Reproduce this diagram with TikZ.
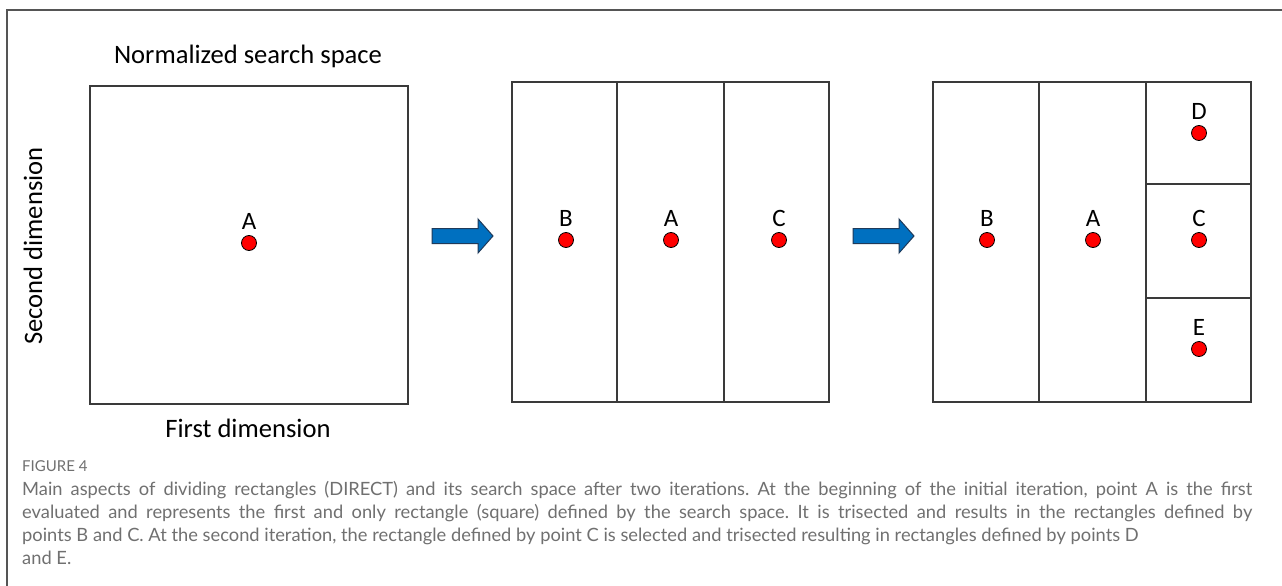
\documentclass[tikz,border=0pt]{standalone}
\usepackage{fontspec}
\setmainfont{Carlito}
\newfontfamily\capfont{Lato}
\definecolor{framegray}{HTML}{555555}
\definecolor{boxline}{HTML}{3A3A3A}
\definecolor{arrowblue}{HTML}{0070C0}
\definecolor{arrowedge}{HTML}{1F3A5A}
\definecolor{captiongray}{HTML}{707070}
\tikzset{
  region/.style={draw=boxline, line width=1.4pt},
  sample/.style={circle, fill=red, draw=black, line width=0.8pt, minimum size=15pt, inner sep=0pt},
  ptlabel/.style={font=\fontsize{25}{28}\selectfont, inner sep=0pt},
  axislabel/.style={font=\fontsize{26.6}{30}\selectfont, inner sep=0pt},
  stepflow/.style={fill=arrowblue, draw=arrowedge, line width=1pt, line join=miter},
}
\newcommand{\samplept}[4]{% name, x, y, label
  \node[sample] (#1) at (#2,#3) {};
  \node[ptlabel, anchor=base] (#1lab) at (#2,#3-14) {#4};
}
\begin{document}
\begin{tikzpicture}[x=1pt, y=-1pt]
\useasboundingbox (0,0) rectangle (1282,586);
\fill[white] (0,0) rectangle (1282,586);
% page frame (left and top rules)
\draw[framegray, line width=1.3pt] (7,586) -- (7,10) -- (1282,10);

% ---- normalized search space ----
\node[axislabel] (title) at (248,56) {Normalized search space};
\draw[region] (90,86) rectangle (408,404);
\node[axislabel, rotate=90] (ydim) at (33,246) {Second dimension};
\node[axislabel] (xdim) at (248,428) {First dimension};
\samplept{a0}{249}{243}{A}

% ---- first trisection ----
\draw[region] (512,82) rectangle (829,402);
\draw[region] (617,82) -- (617,402);
\draw[region] (724,82) -- (724,402);
\samplept{b1}{566}{240}{B}
\samplept{a1}{671}{240}{A}
\samplept{c1}{779}{240}{C}

% ---- second trisection ----
\draw[region] (933,82) rectangle (1251,402);
\draw[region] (1039,82) -- (1039,402);
\draw[region] (1146,82) -- (1146,402);
\draw[region] (1146,184) -- (1251,184);
\draw[region] (1146,298) -- (1251,298);
\samplept{b2}{987}{240}{B}
\samplept{a2}{1093}{240}{A}
\samplept{c2}{1199}{240}{C}
\samplept{d2}{1199}{133}{D}
\samplept{e2}{1199}{349}{E}

% ---- block arrows between stages ----
\foreach \x in {432,853}{
  \draw[stepflow] (\x,228.5) -- (\x+46,228.5) -- (\x+46,219) -- (\x+61,236)
    -- (\x+46,253) -- (\x+46,243.5) -- (\x,243.5) -- cycle;
}

% ---- caption ----
\node[anchor=base west, inner sep=0pt, text=captiongray, font=\capfont\fontsize{15}{17}\selectfont] (fig) at (22,471) {FIGURE 4};
\node[anchor=north west, inner sep=0pt, text width=1230pt, align=justify, text=captiongray,
      font=\capfont\fontsize{18.3}{23.2}\selectfont\frenchspacing] (cap) at (22,481)
 {Main aspects of dividing rectangles (DIRECT) and its search space after two iterations. At the beginning of the initial iteration, point A is the first\linebreak
 evaluated and represents the first and only rectangle (square) defined by the search space. It is trisected and results in the rectangles defined by\linebreak
 points B and C. At the second iteration, the rectangle defined by point C is selected and trisected resulting in rectangles defined by points D\\
 and E.};
\end{tikzpicture}
\end{document}
